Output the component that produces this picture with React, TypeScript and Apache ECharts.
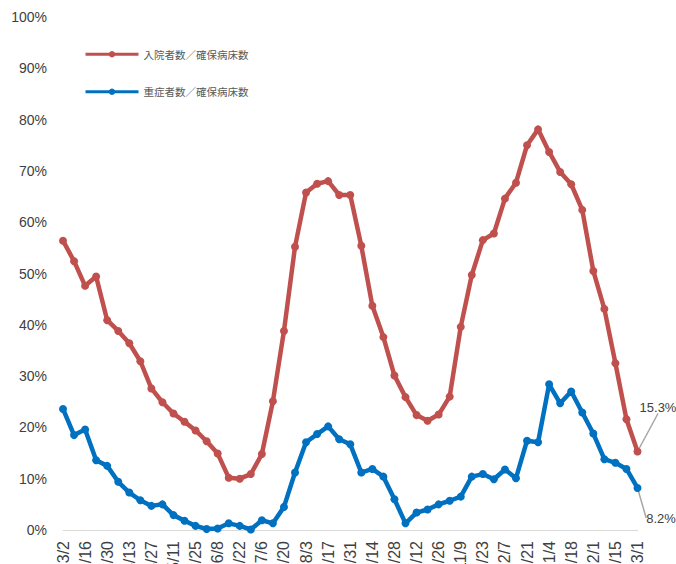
import React, { useEffect, useRef } from "react";
import * as echarts from "echarts";

const dates = [
  "3/2","3/9","3/16","3/23","3/30","4/6","4/13","4/20","4/27","5/4","5/11","5/18","5/25","6/1","6/8","6/15","6/22","6/29","7/6","7/13","7/20","7/27","8/3","8/10","8/17","8/24","8/31","9/7","9/14","9/21","9/28","10/5","10/12","10/19","10/26","11/2","11/9","11/16","11/23","11/30","12/7","12/14","12/21","12/28","1/4","1/11","1/18","1/25","2/1","2/8","2/15","2/22","3/1",
];

const hospitalized = [
  56.4, 52.4, 47.6, 49.4, 40.9, 38.8, 36.4, 32.9, 27.6, 24.9, 22.7, 21.1, 19.4, 17.3, 14.9, 10.2, 10.0, 10.9, 14.8, 25.1, 38.8, 55.2, 65.8, 67.5, 68.0, 65.3, 65.3, 55.4, 43.7, 37.6, 30.1, 25.9, 22.4, 21.3, 22.5, 26.0, 39.6, 49.7, 56.5, 57.8, 64.6, 67.7, 75.0, 78.1, 73.7, 69.8, 67.4, 62.4, 50.5, 43.1, 32.5, 21.6, 15.3,
];

const severe = [
  23.6, 18.5, 19.6, 13.6, 12.5, 9.4, 7.3, 5.8, 4.7, 5.0, 2.9, 1.8, 0.8, 0.2, 0.3, 1.3, 0.8, 0.1, 1.9, 1.3, 4.5, 11.2, 17.1, 18.7, 20.2, 17.7, 16.7, 11.2, 11.9, 10.4, 6.0, 1.3, 3.4, 4.0, 5.0, 5.7, 6.5, 10.4, 10.9, 9.9, 11.8, 10.1, 17.4, 17.1, 28.4, 24.7, 27.0, 22.9, 18.8, 13.8, 13.1, 11.9, 8.2,
];

const seriesNames = ["入院者数／確保病床数", "重症者数／確保病床数"];

export default function App() {
  const ref = useRef<HTMLDivElement>(null);
  useEffect(() => {
    if (!ref.current) return;
    const chart = echarts.init(ref.current, undefined, { renderer: "svg" });
    const font = "'Liberation Sans', 'Noto Sans CJK JP', sans-serif";
    const last = dates.length - 1;
    const mkData = (arr: number[]) =>
      arr.map((v, i) =>
        i === last
          ? {
              value: v,
              label: {
                show: true,
                formatter: (p: any) => p.value.toFixed(1) + "%",
                color: "#404040",
                fontSize: 13,
                fontFamily: font,
              },
            }
          : v
      );
    chart.setOption({
      animation: false,
      textStyle: { fontFamily: font },
      grid: {
        left: 63,
        right: 38.5,
        top: 17,
        bottom: 34,
        containLabel: false,
        outerBoundsMode: "none",
      },
      legend: {
        orient: "vertical",
        left: 79,
        top: 44,
        itemWidth: 53,
        itemHeight: 8,
        itemGap: 27,
        lineStyle: { width: 3 },
        textStyle: { color: "#595959", fontSize: 10.5, fontFamily: "'Noto Sans CJK JP', sans-serif" },
        data: seriesNames,
      },
      xAxis: {
        type: "category",
        data: dates,
        boundaryGap: false,
        axisLine: { lineStyle: { color: "#d9d9d9", width: 1 } },
        axisTick: { show: false },
        axisLabel: {
          interval: 1,
          rotate: 90,
          color: "#404040",
          fontSize: 16,
          margin: 11,
          fontFamily: font,
        },
      },
      yAxis: {
        type: "value",
        min: 0,
        max: 100,
        interval: 10,
        axisLine: { show: false },
        axisTick: { show: false },
        splitLine: { show: false },
        axisLabel: {
          formatter: "{value}%",
          color: "#404040",
          fontSize: 14,
          margin: 16,
          fontFamily: font,
        },
      },
      series: [
        {
          name: seriesNames[0],
          type: "line",
          data: mkData(hospitalized),
          symbol: "circle",
          symbolSize: 8,
          showAllSymbol: true,
          lineStyle: { color: "#C0504D", width: 4.5 },
          itemStyle: { color: "#C0504D" },
          labelLayout: { x: 658, y: 407, align: "center", verticalAlign: "middle" },
          labelLine: { show: true, lineStyle: { color: "#a6a6a6", width: 1.5 } },
          z: 2,
        },
        {
          name: seriesNames[1],
          type: "line",
          data: mkData(severe),
          symbol: "circle",
          symbolSize: 8,
          showAllSymbol: true,
          lineStyle: { color: "#0070C0", width: 4.5 },
          itemStyle: { color: "#0070C0" },
          labelLayout: { x: 661, y: 518, align: "center", verticalAlign: "middle" },
          labelLine: { show: true, lineStyle: { color: "#a6a6a6", width: 1.5 } },
          z: 3,
        },
      ],
    });
    return () => chart.dispose();
  }, []);
  return (
    <div
      ref={ref}
      style={{ position: "absolute", left: 0, top: 0, width: 676, height: 564, background: "#fff" }}
    />
  );
}
